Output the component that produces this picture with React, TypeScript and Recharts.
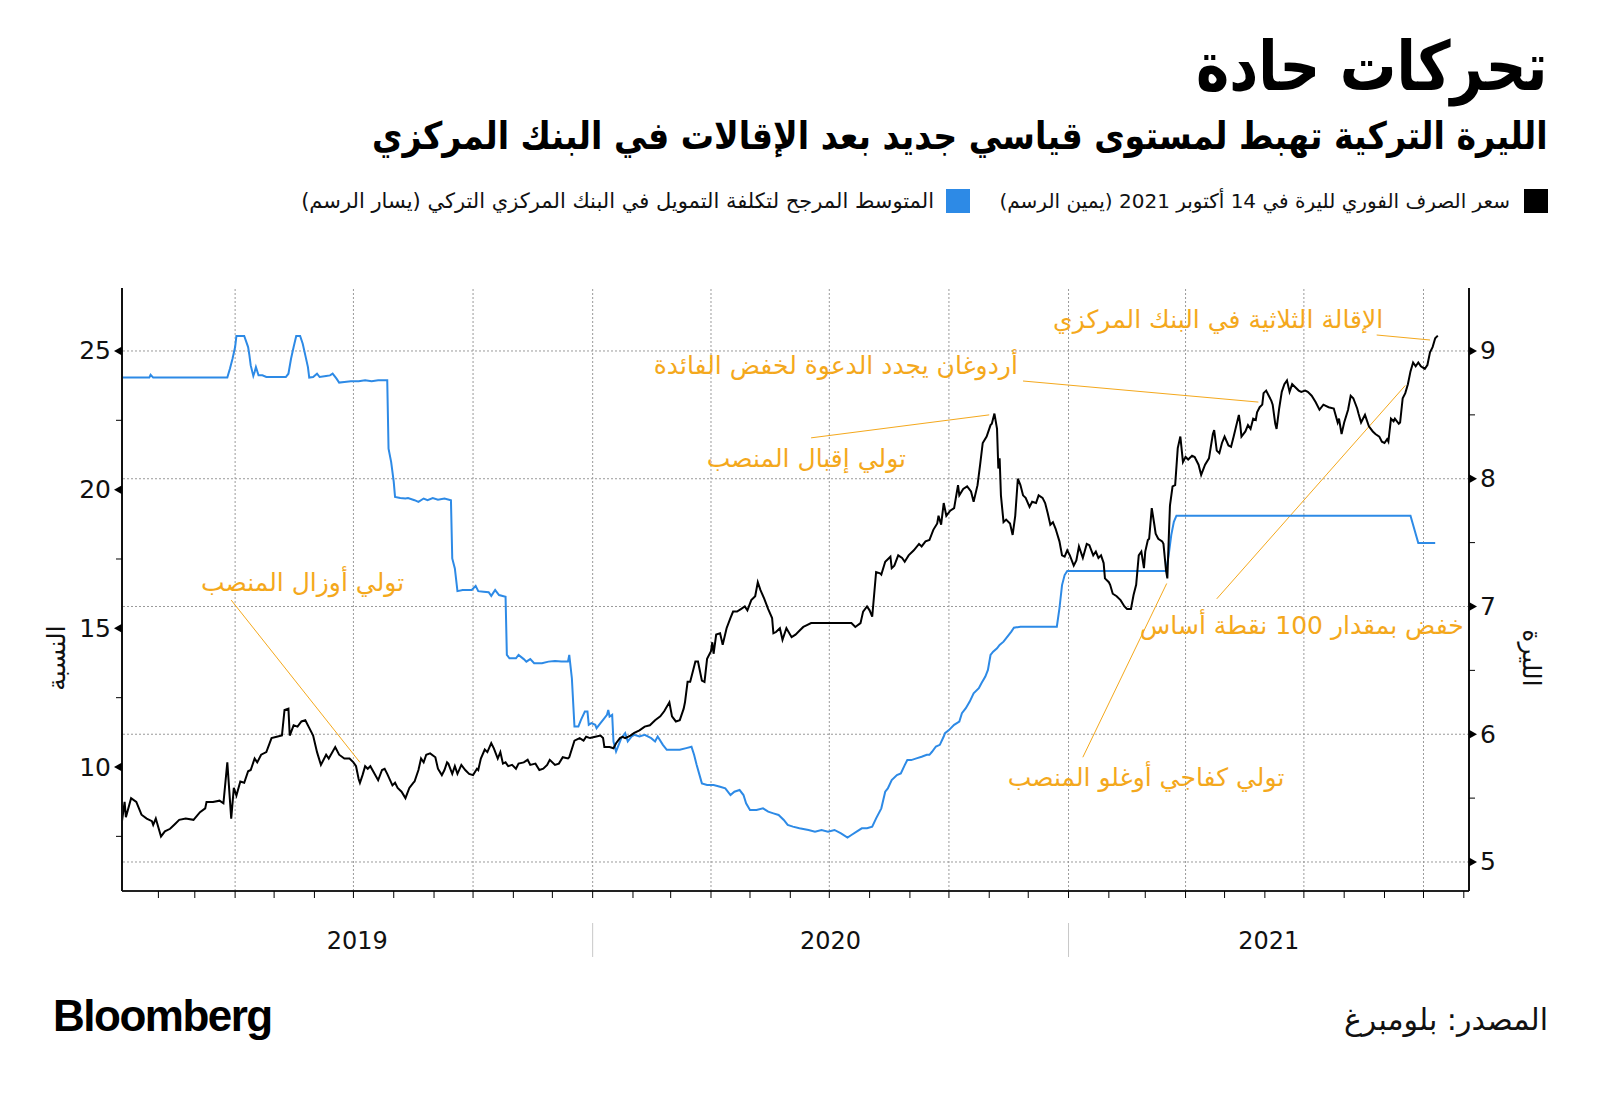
import React from "react";
import { LineChart, Line, XAxis, YAxis, ReferenceLine, ReferenceDot } from "recharts";

// x values are days since 1 Jan 2019.
const X_MIN = 3;
const X_MAX = 1039;

// USD/TRY spot (right axis)
const fxDays = [
  3, 5, 6, 10, 14, 18, 22, 26, 27, 29, 33, 36, 40, 44, 47, 52, 58, 63, 67, 68, 73, 78, 81, 84, 87, 89, 91,
  94, 97, 100, 102, 105, 107, 110, 114, 118, 122, 126, 128, 131, 132, 135, 138, 141, 144, 147, 150, 153,
  156, 160, 162, 167, 170, 174, 178, 181, 183, 185, 186, 188, 190, 192, 194, 200, 203, 205, 207, 211, 213,
  215, 218, 221, 224, 227, 228, 231, 233, 235, 237, 240, 244, 246, 249, 251, 253, 254, 257, 259, 261, 264,
  267, 270, 273, 276, 277, 279, 282, 284, 287, 289, 292, 294, 296, 298, 300, 303, 306, 308, 312, 315, 317,
  321, 324, 327, 330, 332, 336, 339, 342, 346, 347, 351, 355, 358, 360, 363, 367, 371, 373, 374, 378, 381,
  383, 386, 388, 390, 394, 397, 401, 405, 409, 413, 417, 420, 424, 426, 429, 432, 435, 436, 438, 440, 444,
  446, 449, 451, 453, 456, 457, 458, 460, 463, 465, 468, 471, 473, 476, 479, 482, 484, 487, 490, 492, 494,
  497, 500, 503, 504, 506, 509, 511, 514, 518, 521, 524, 527, 529, 533, 538, 544, 549, 554, 559, 564, 567,
  571, 573, 576, 578, 580, 583, 586, 587, 590, 594, 595, 597, 600, 603, 605, 608, 612, 616, 618, 621, 624,
  627, 630, 631, 633, 635, 637, 640, 643, 646, 647, 650, 653, 656, 658, 661, 663, 665, 668, 671, 672, 674,
  676, 677, 678, 679, 681, 683, 686, 688, 690, 692, 694, 696, 698, 701, 703, 706, 708, 711, 713, 715, 717,
  719, 721, 724, 726, 728, 730, 732, 735, 737, 739, 742, 745, 747, 750, 752, 754, 756, 758, 759, 762, 763,
  765, 768, 771, 774, 776, 779, 781, 783, 785, 787, 789, 790, 792, 793, 795, 797, 798, 800, 803, 804, 806,
  807, 808, 809, 811, 813, 815, 817, 819, 821, 823, 826, 828, 831, 833, 836, 839, 842, 843, 845, 847, 849,
  851, 854, 856, 858, 862, 863, 864, 867, 869, 871, 873, 875, 876, 878, 880, 881, 883, 885, 887, 888, 890,
  891, 893, 895, 897, 899, 901, 903, 905, 908, 910, 913, 915, 918, 921, 924, 927, 931, 935, 938, 939, 941,
  943, 946, 948, 950, 953, 954, 956, 959, 962, 965, 967, 970, 972, 974, 976, 977, 979, 981, 982, 985, 986,
  988, 990, 992, 994, 996, 998, 1000, 1002, 1005, 1007, 1009, 1011, 1013, 1015,
];
const fxValues = [
  5.32, 5.47, 5.35, 5.5, 5.47, 5.37, 5.34, 5.32, 5.29, 5.34, 5.2, 5.24, 5.26, 5.3, 5.33, 5.34, 5.33, 5.39,
  5.42, 5.47, 5.47, 5.48, 5.46, 5.78, 5.34, 5.58, 5.52, 5.63, 5.62, 5.71, 5.72, 5.81, 5.78, 5.84, 5.86, 5.97,
  5.98, 5.99, 6.19, 6.2, 5.99, 6.07, 6.06, 6.1, 6.11, 6.05, 5.99, 5.86, 5.76, 5.84, 5.81, 5.9, 5.84, 5.81,
  5.81, 5.78, 5.75, 5.65, 5.62, 5.68, 5.75, 5.73, 5.75, 5.64, 5.72, 5.73, 5.69, 5.6, 5.62, 5.58, 5.55, 5.5,
  5.58, 5.62, 5.63, 5.72, 5.81, 5.78, 5.84, 5.85, 5.82, 5.73, 5.68, 5.72, 5.78, 5.77, 5.69, 5.75, 5.69, 5.76,
  5.72, 5.69, 5.68, 5.73, 5.72, 5.81, 5.88, 5.86, 5.93, 5.89, 5.81, 5.86, 5.77, 5.78, 5.75, 5.76, 5.73, 5.77,
  5.78, 5.8, 5.76, 5.77, 5.72, 5.73, 5.76, 5.8, 5.76, 5.77, 5.82, 5.81, 5.82, 5.95, 5.97, 5.95, 5.98, 5.97,
  5.98, 5.99, 5.97, 5.9, 5.9, 5.89, 5.93, 5.97, 5.98, 5.97, 5.99, 6.01, 6.03, 6.06, 6.07, 6.11, 6.14, 6.18,
  6.25, 6.14, 6.1, 6.11, 6.2, 6.25, 6.41, 6.41, 6.57, 6.57, 6.42, 6.41, 6.59, 6.65, 6.72, 6.63, 6.78, 6.79,
  6.7, 6.83, 6.91, 6.96, 6.96, 6.98, 7.0, 6.97, 7.05, 7.08, 7.19, 7.13, 7.06, 6.98, 6.91, 6.79, 6.8, 6.83,
  6.74, 6.83, 6.76, 6.78, 6.81, 6.84, 6.85, 6.87, 6.87, 6.87, 6.87, 6.87, 6.87, 6.87, 6.84, 6.87, 6.96, 7.0,
  6.97, 6.92, 7.27, 7.26, 7.25, 7.35, 7.39, 7.3, 7.32, 7.4, 7.38, 7.35, 7.4, 7.44, 7.49, 7.47, 7.51, 7.52,
  7.6, 7.65, 7.71, 7.64, 7.81, 7.71, 7.75, 7.77, 7.95, 7.87, 7.92, 7.94, 7.9, 7.82, 7.95, 8.11, 8.28, 8.33,
  8.42, 8.43, 8.51, 8.39, 8.08, 8.16, 7.87, 7.66, 7.68, 7.65, 7.56, 7.71, 8.0, 7.95, 7.87, 7.85, 7.78, 7.82,
  7.81, 7.87, 7.85, 7.81, 7.73, 7.64, 7.66, 7.61, 7.51, 7.4, 7.39, 7.44, 7.4, 7.32, 7.36, 7.47, 7.38, 7.49,
  7.48, 7.4, 7.43, 7.38, 7.4, 7.34, 7.22, 7.19, 7.17, 7.1, 7.08, 7.05, 7.0, 6.98, 6.98, 7.09, 7.17, 7.4, 7.43,
  7.3, 7.43, 7.52, 7.53, 7.77, 7.64, 7.57, 7.53, 7.51, 7.49, 7.28, 7.22, 7.51, 7.79, 7.94, 7.95, 8.24, 8.33,
  8.13, 8.17, 8.15, 8.18, 8.17, 8.11, 8.03, 8.11, 8.16, 8.35, 8.38, 8.22, 8.2, 8.28, 8.33, 8.26, 8.25, 8.33,
  8.5, 8.43, 8.33, 8.37, 8.42, 8.39, 8.47, 8.46, 8.52, 8.56, 8.58, 8.67, 8.69, 8.65, 8.61, 8.58, 8.43, 8.39,
  8.55, 8.68, 8.74, 8.77, 8.68, 8.74, 8.72, 8.69, 8.68, 8.69, 8.68, 8.65, 8.6, 8.54, 8.58, 8.56, 8.55, 8.44,
  8.47, 8.35, 8.44, 8.54, 8.65, 8.63, 8.55, 8.51, 8.44, 8.5, 8.41, 8.37, 8.35, 8.33, 8.29, 8.28, 8.31, 8.29,
  8.47, 8.45, 8.47, 8.43, 8.44, 8.63, 8.67, 8.74, 8.84, 8.91, 8.88, 8.91, 8.88, 8.86, 8.89, 8.99, 9.03, 9.1,
  9.12,
];

// CBRT weighted average cost of funding, % (left axis)
const rateDays = [
  3, 24, 25, 27, 84, 86, 88, 90, 91, 97, 100, 101, 102, 104, 105, 106, 108, 111, 114, 129, 131, 133, 135,
  137, 140, 142, 144, 146, 147, 150, 153, 155, 160, 163, 165, 168, 170, 174, 179, 185, 190, 195, 200, 207,
  208, 210, 212, 213, 217, 221, 223, 228, 231, 235, 238, 242, 246, 251, 256, 257, 259, 261, 265, 272, 275,
  277, 281, 285, 287, 290, 293, 298, 299, 301, 306, 308, 312, 314, 317, 320, 326, 331, 336, 341, 346, 347,
  349, 351, 354, 356, 359, 361, 362, 364, 367, 368, 371, 373, 376, 377, 378, 380, 381, 383, 385, 387, 390,
  392, 395, 397, 401, 405, 410, 413, 415, 419, 422, 427, 432, 437, 441, 443, 445, 449, 453, 458, 463, 467,
  471, 474, 478, 481, 483, 486, 491, 496, 500, 504, 508, 512, 515, 519, 524, 531, 536, 541, 546, 551, 556,
  561, 564, 568, 572, 576, 580, 583, 587, 590, 592, 595, 599, 602, 605, 607, 610, 614, 618, 622, 624, 626,
  629, 632, 635, 636, 639, 643, 647, 649, 652, 655, 658, 662, 664, 667, 669, 671, 673, 676, 678, 681, 684,
  687, 689, 694, 722, 724, 726, 728, 730, 806, 808, 810, 812, 814, 994, 1000, 1013,
];
const rateValues = [
  24.04, 24.04, 24.14, 24.04, 24.04, 24.36, 24.72, 25.14, 25.54, 25.54, 25.14, 24.84, 24.48, 24.1, 24.24,
  24.42, 24.12, 24.12, 24.06, 24.06, 24.18, 24.72, 25.14, 25.54, 25.54, 25.26, 24.84, 24.42, 24.04, 24.06,
  24.18, 24.06, 24.1, 24.12, 24.18, 24.0, 23.86, 23.88, 23.91, 23.91, 23.94, 23.91, 23.94, 23.94, 21.48,
  21.0, 20.28, 19.74, 19.7, 19.68, 19.7, 19.62, 19.56, 19.68, 19.62, 19.7, 19.64, 19.68, 19.62, 17.52,
  17.16, 16.34, 16.38, 16.38, 16.53, 16.34, 16.32, 16.3, 16.17, 16.38, 16.2, 16.14, 14.04, 13.92, 13.92,
  14.04, 13.89, 13.8, 13.89, 13.74, 13.74, 13.8, 13.82, 13.8, 13.8, 14.04, 13.2, 11.46, 11.46, 11.7, 12.0,
  12.0, 11.52, 11.58, 11.52, 11.4, 11.58, 11.7, 11.88, 12.06, 11.82, 11.88, 10.92, 10.56, 10.8, 11.04, 11.22,
  10.92, 11.1, 11.16, 11.1, 11.16, 11.04, 10.92, 11.1, 10.8, 10.62, 10.62, 10.62, 10.68, 10.73, 10.44, 10.07,
  9.41, 9.35, 9.35, 9.29, 9.23, 8.99, 9.11, 9.17, 8.99, 8.69, 8.45, 8.45, 8.51, 8.39, 8.33, 8.27, 8.09, 7.91,
  7.85, 7.79, 7.73, 7.67, 7.73, 7.67, 7.73, 7.61, 7.46, 7.55, 7.67, 7.79, 7.79, 7.85, 8.15, 8.51, 9.11, 9.23,
  9.53, 9.71, 9.77, 10.07, 10.25, 10.25, 10.31, 10.37, 10.44, 10.44, 10.55, 10.74, 10.8, 11.1, 11.22, 11.33,
  11.52, 11.64, 11.94, 12.12, 12.36, 12.66, 12.84, 13.02, 13.26, 13.5, 14.04, 14.16, 14.28, 14.4, 14.52,
  14.7, 14.88, 15.02, 15.06, 15.06, 15.72, 16.56, 16.92, 17.07, 17.07, 17.64, 18.36, 18.84, 19.06, 19.06,
  18.08, 18.08,
];

const LEFT_TICKS = [7.5, 10, 12.5, 15, 17.5, 20, 22.5, 25];
const LEFT_LABELED = [10, 15, 20, 25];
const RIGHT_TICKS = [5, 5.5, 6, 6.5, 7, 7.5, 8, 8.5, 9];
const RIGHT_LABELED = [5, 6, 7, 8, 9];
const YEARS = [2019, 2020, 2021];

const NOTE_TEXT = [
  "الإقالة الثلاثية في البنك المركزي",
  "أردوغان يجدد الدعوة لخفض الفائدة",
  "تولي إقبال المنصب",
  "تولي أوزال المنصب",
  "خفض بمقدار 100 نقطة أساس",
  "تولي كفاجي أوغلو المنصب",
];
// text anchor (right end) and leader line, in [day, USD/TRY]
const NOTE_AT = [
  [973, 9.25],
  [692, 8.89],
  [606, 8.155],
  [220, 7.19],
  [1035, 6.855],
  [897, 5.66],
];
const NOTE_LINES = [
  [968, 9.125, 1009, 9.086],
  [696, 8.765, 877, 8.6],
  [533, 8.32, 670, 8.5],
  [87, 7.05, 186, 5.78],
  [990, 8.73, 845, 7.06],
  [806.5, 7.18, 742, 5.82],
];

const BLUE = "#2d8ae6";
const ORANGE = "#f4a81c";
const GRID = "#9a9a9a";
const AR_FONT = "'DejaVu Sans', sans-serif";
const NUM_FONT = "'DejaVu Sans', sans-serif";

const DAY_MS = 86_400_000;
const dayOf = (y: number, m: number) => (Date.UTC(y, m, 1) - Date.UTC(2019, 0, 1)) / DAY_MS;

const monthTicks: number[] = [];
const quarterDays: number[] = [];
for (const y of YEARS) {
  for (let m = 0; m < 12; m++) {
    const d = dayOf(y, m);
    if (d <= X_MIN || d > X_MAX) continue;
    monthTicks.push(d);
    if (m % 3 === 0) quarterDays.push(d);
  }
}
const yearBreaks = YEARS.slice(1).map((y) => dayOf(y, 0));
const yearLabelAt = new Map<number, string>();
YEARS.forEach((y) => {
  const a = Math.max(X_MIN, dayOf(y, 0));
  const b = Math.min(X_MAX, dayOf(y + 1, 0));
  yearLabelAt.set((a + b) / 2, String(y));
});
const yearTicks = [...yearLabelAt.keys(), ...yearBreaks].sort((a, b) => a - b);

const fxData = fxDays.map((d, i) => ({ d, v: fxValues[i] }));
const rateData = rateDays.map((d, i) => ({ d, v: rateValues[i] }));

function LeftTick({ x, y, payload }: any) {
  const v = payload.value;
  if (!LEFT_LABELED.includes(v)) {
    return <line x1={x} y1={y} x2={x - 6} y2={y} stroke="#000" strokeWidth={1} />;
  }
  return (
    <g>
      <polygon points={`${x},${y - 4.5} ${x},${y + 4.5} ${x - 8},${y}`} fill="#000" />
      <text x={x - 11} y={y} textAnchor="end" dominantBaseline="central" fontSize={25} fontFamily={NUM_FONT} fill="#111">
        {v}
      </text>
    </g>
  );
}

function RightTick({ x, y, payload }: any) {
  const v = payload.value;
  if (!RIGHT_LABELED.includes(v)) {
    return <line x1={x} y1={y} x2={x + 6} y2={y} stroke="#000" strokeWidth={1} />;
  }
  return (
    <g>
      <polygon points={`${x},${y - 4.5} ${x},${y + 4.5} ${x + 8},${y}`} fill="#000" />
      <text x={x + 11} y={y} textAnchor="start" dominantBaseline="central" fontSize={25} fontFamily={NUM_FONT} fill="#111">
        {v}
      </text>
    </g>
  );
}

function MonthTick({ x, y }: any) {
  return <line x1={x} y1={y} x2={x} y2={y + 7} stroke="#000" strokeWidth={1} />;
}

function YearTick({ x, y, payload }: any) {
  const label = yearLabelAt.get(payload.value);
  if (label) {
    return (
      <text x={x} y={y + 20} textAnchor="middle" dominantBaseline="central" fontSize={24} fontFamily={NUM_FONT} fill="#111">
        {label}
      </text>
    );
  }
  return <line x1={x} y1={y + 2} x2={x} y2={y + 36} stroke="#c8c8c8" strokeWidth={1} />;
}

function NoteLabel({ viewBox, text }: any) {
  const cx = viewBox.x + viewBox.width / 2;
  const cy = viewBox.y + viewBox.height / 2;
  return (
    <text x={cx} y={cy} textAnchor="end" dominantBaseline="central" fontSize={25} fontFamily={AR_FONT} fill={ORANGE}>
      {text}
    </text>
  );
}

export default function App() {
  return (
    <div style={{ position: "absolute", left: 0, top: 0, width: 1600, height: 1097, background: "#fff", overflow: "hidden" }}>
      <LineChart width={1600} height={1097} margin={{ top: 288, right: 0, bottom: 100, left: 0 }}>
        <XAxis
          xAxisId={0}
          dataKey="d"
          type="number"
          domain={[X_MIN, X_MAX]}
          ticks={monthTicks}
          interval={0}
          height={30}
          tickSize={0}
          tickMargin={0}
          tickLine={false}
          tick={<MonthTick />}
          axisLine={{ stroke: "#222", strokeWidth: 2 }}
          allowDataOverflow
        />
        <XAxis
          xAxisId="year"
          dataKey="d"
          type="number"
          domain={[X_MIN, X_MAX]}
          ticks={yearTicks}
          interval={0}
          height={76}
          tickSize={0}
          tickMargin={0}
          tickLine={false}
          tick={<YearTick />}
          axisLine={false}
          allowDataOverflow
        />
        <YAxis
          yAxisId="left"
          orientation="left"
          width={122}
          type="number"
          domain={[5.53, 27.27]}
          ticks={LEFT_TICKS}
          interval={0}
          tickSize={0}
          tickMargin={0}
          tickLine={false}
          tick={<LeftTick />}
          axisLine={{ stroke: "#111", strokeWidth: 2 }}
          allowDataOverflow
        />
        <YAxis
          yAxisId="right"
          orientation="right"
          width={131}
          type="number"
          domain={[4.773, 9.493]}
          ticks={RIGHT_TICKS}
          interval={0}
          tickSize={0}
          tickMargin={0}
          tickLine={false}
          tick={<RightTick />}
          axisLine={{ stroke: "#111", strokeWidth: 2 }}
          allowDataOverflow
        />

        {RIGHT_LABELED.map((v) => (
          <ReferenceLine key={`h${v}`} xAxisId={0} yAxisId="right" y={v} stroke={GRID} strokeDasharray="2 2" strokeWidth={1} />
        ))}
        {quarterDays.map((d) => (
          <ReferenceLine key={`v${d}`} xAxisId={0} yAxisId="right" x={d} stroke={GRID} strokeDasharray="2 2" strokeWidth={1} />
        ))}

        {NOTE_LINES.map(([x1, y1, x2, y2], i) => (
          <ReferenceLine
            key={`nl${i}`}
            xAxisId={0}
            yAxisId="right"
            segment={[
              { x: x1, y: y1 },
              { x: x2, y: y2 },
            ]}
            stroke={ORANGE}
            strokeWidth={1}
            ifOverflow="visible"
          />
        ))}

        <Line
          xAxisId={0}
          yAxisId="left"
          data={rateData}
          dataKey="v"
          type="linear"
          stroke={BLUE}
          strokeWidth={2}
          dot={false}
          activeDot={false}
          isAnimationActive={false}
        />
        <Line
          xAxisId={0}
          yAxisId="right"
          data={fxData}
          dataKey="v"
          type="linear"
          stroke="#000"
          strokeWidth={2}
          dot={false}
          activeDot={false}
          isAnimationActive={false}
        />

        {NOTE_AT.map(([d, v], i) => (
          <ReferenceDot
            key={`nt${i}`}
            xAxisId={0}
            yAxisId="right"
            x={d}
            y={v}
            r={1}
            fill="none"
            stroke="none"
            ifOverflow="visible"
            label={<NoteLabel text={NOTE_TEXT[i]} />}
          />
        ))}
      </LineChart>

      {/* axis titles */}
      <div
        style={{
          position: "absolute",
          left: 56,
          top: 658,
          transform: "translate(-50%, -50%) rotate(-90deg)",
          fontFamily: AR_FONT,
          fontSize: 25,
          color: "#111",
          whiteSpace: "nowrap",
        }}
        dir="rtl"
      >
        النسبة
      </div>
      <div
        style={{
          position: "absolute",
          left: 1531,
          top: 658,
          transform: "translate(-50%, -50%) rotate(90deg)",
          fontFamily: AR_FONT,
          fontSize: 25,
          color: "#111",
          whiteSpace: "nowrap",
        }}
        dir="rtl"
      >
        الليرة
      </div>

      {/* header */}
      <div
        dir="rtl"
        style={{
          position: "absolute",
          right: 52,
          top: 22,
          fontFamily: AR_FONT,
          fontWeight: 700,
          fontSize: 68,
          lineHeight: "90px",
          color: "#000",
          whiteSpace: "nowrap",
          transform: "scaleX(0.83)",
          transformOrigin: "right center",
        }}
      >
        تحركات حادة
      </div>
      <div
        dir="rtl"
        style={{
          position: "absolute",
          right: 52,
          top: 108,
          fontFamily: AR_FONT,
          fontWeight: 700,
          fontSize: 38,
          lineHeight: "56px",
          color: "#000",
          whiteSpace: "nowrap",
          transform: "scaleX(0.873)",
          transformOrigin: "right center",
        }}
      >
        الليرة التركية تهبط لمستوى قياسي جديد بعد الإقالات في البنك المركزي
      </div>

      {/* legend */}
      <div style={{ position: "absolute", left: 1524, top: 189, width: 24, height: 24, background: "#000" }} />
      <div
        dir="rtl"
        style={{
          position: "absolute",
          right: 90,
          top: 186,
          fontFamily: AR_FONT,
          fontSize: 20,
          lineHeight: "30px",
          color: "#111",
          whiteSpace: "nowrap",
        }}
      >
        سعر الصرف الفوري لليرة في 14 أكتوبر 2021 (يمين الرسم)
      </div>
      <div style={{ position: "absolute", left: 946, top: 189, width: 24, height: 24, background: BLUE }} />
      <div
        dir="rtl"
        style={{
          position: "absolute",
          right: 666,
          top: 186,
          fontFamily: AR_FONT,
          fontSize: 21,
          lineHeight: "30px",
          color: "#111",
          whiteSpace: "nowrap",
        }}
      >
        المتوسط المرجح لتكلفة التمويل في البنك المركزي التركي (يسار الرسم)
      </div>

      {/* footer */}
      <div
        style={{
          position: "absolute",
          left: 53,
          top: 990,
          fontFamily: "'Liberation Sans', Arial, sans-serif",
          fontWeight: 700,
          fontSize: 44,
          lineHeight: "52px",
          letterSpacing: -1.5,
          color: "#000",
        }}
      >
        Bloomberg
      </div>
      <div
        dir="rtl"
        style={{
          position: "absolute",
          right: 52,
          top: 998,
          fontFamily: AR_FONT,
          fontSize: 30,
          lineHeight: "44px",
          color: "#111",
          whiteSpace: "nowrap",
        }}
      >
        المصدر: بلومبرغ
      </div>
    </div>
  );
}
